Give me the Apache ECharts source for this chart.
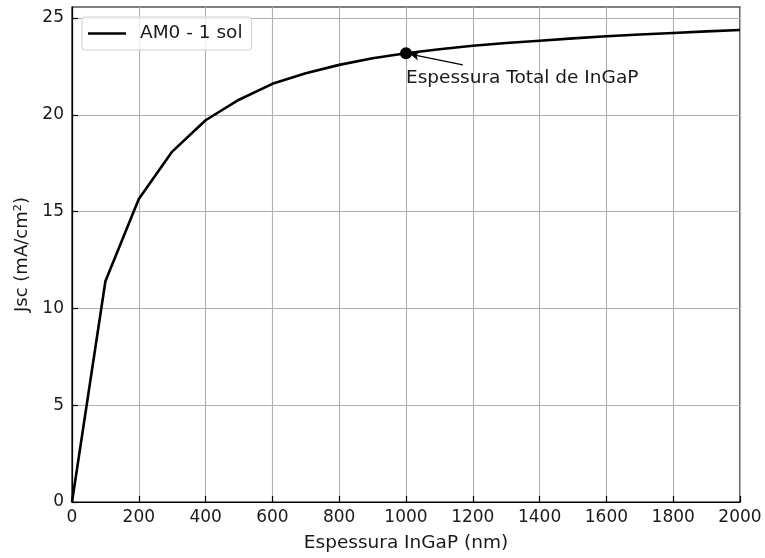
<!DOCTYPE html>
<html>
<head>
<meta charset="utf-8">
<script src="https://cdn.jsdelivr.net/npm/echarts@6/dist/echarts.min.js"></script>
<style>html,body{margin:0;padding:0;background:#fff;}#c{width:765px;height:558px;}</style>
</head>
<body>
<div id="c"></div>
<script>
// Data
var thickness = [0, 100, 200, 300, 400, 500, 600, 700, 800, 900, 1000, 1100, 1200, 1300, 1400, 1500, 1600, 1700, 1800, 1900, 2000];
var jsc = [0, 11.4, 15.65, 18.1, 19.72, 20.78, 21.6, 22.15, 22.58, 22.92, 23.18, 23.39, 23.57, 23.71, 23.83, 23.95, 24.06, 24.15, 24.23, 24.31, 24.38];
var seriesName = 'AM0 - 1 sol';
var markedPoint = [1000, 23.18];
var annotationText = 'Espessura Total de InGaP';
var arrowTail = [1170, 22.58];
var arrowHead = [1012, 23.14];
var yTicks = [0, 5, 10, 15, 20, 25];
var xTicks = [0, 200, 400, 600, 800, 1000, 1200, 1400, 1600, 1800, 2000];

var FONT = 'DejaVu Sans';
var TXT = '#1a1a1a';
var chart = echarts.init(document.getElementById('c'), null, {renderer: 'canvas'});
chart.setOption({
  animation: false,
  textStyle: {fontFamily: FONT},
  grid: {left: 72, right: 25, top: 7, bottom: 54, show: true, borderColor: '#000', borderWidth: 1.2, backgroundColor: 'transparent'},
  legend: {
    show: true, left: 82, top: 17,
    data: [seriesName],
    icon: 'rect',
    itemWidth: 38, itemHeight: 2.6, itemGap: 10,
    padding: [7, 9, 7, 6],
    borderColor: '#d0d0d0', borderWidth: 1, borderRadius: 3,
    backgroundColor: 'rgba(255,255,255,0.8)',
    textStyle: {fontFamily: FONT, fontSize: 18.5, color: TXT, padding: [0, 0, 0, 9]}
  },
  xAxis: {
    type: 'value', min: 0, max: 2000, interval: 200,
    name: 'Espessura InGaP (nm)', nameLocation: 'middle', nameGap: 32,
    nameTextStyle: {fontFamily: FONT, fontSize: 18.5, color: TXT},
    axisLine: {show: true, onZero: false, lineStyle: {color: '#000', width: 1.2}},
    axisTick: {show: true, inside: true, length: 6, lineStyle: {color: '#000', width: 1.2}},
    axisLabel: {fontFamily: FONT, fontSize: 17, color: TXT, margin: 7,
      formatter: function (v) { return String(v); }},
    splitLine: {show: true, lineStyle: {color: '#b0b0b0', width: 1.1}}
  },
  yAxis: {
    type: 'value', min: 0, max: 25.57, interval: 5,
    name: 'Jsc (mA/cm²)', nameLocation: 'middle', nameGap: 40,
    nameTextStyle: {fontFamily: FONT, fontSize: 18, color: TXT},
    axisLine: {show: true, lineStyle: {color: '#000', width: 1.2}},
    axisTick: {show: true, inside: true, length: 6, lineStyle: {color: '#000', width: 1.2}, customValues: yTicks},
    axisLabel: {fontFamily: FONT, fontSize: 17, color: TXT, margin: 8, customValues: yTicks},
    splitLine: {show: true, lineStyle: {color: '#b0b0b0', width: 1.1}}
  },
  series: [
    {
      name: seriesName, type: 'line', symbol: 'none',
      data: thickness.map(function (t, i) { return [t, jsc[i]]; }),
      lineStyle: {color: '#000', width: 2.6},
      itemStyle: {color: '#000'},
      z: 3
    },
    {
      name: 'annot', type: 'scatter', symbol: 'circle', symbolSize: 12,
      data: [markedPoint],
      itemStyle: {color: '#000', opacity: 1},
      label: {
        show: true, position: 'inside', align: 'left', verticalAlign: 'middle',
        offset: [0, 25], formatter: annotationText,
        fontFamily: FONT, fontSize: 18.5, color: TXT, textBorderWidth: 0
      },
      markLine: {
        silent: true, symbol: ['none', 'arrow'], symbolSize: [7, 9],
        lineStyle: {color: '#000', width: 1.3, type: 'solid', opacity: 1},
        label: {show: false},
        data: [[{coord: arrowTail}, {coord: arrowHead}]]
      },
      z: 4
    }
  ]
});
</script>
</body>
</html>
